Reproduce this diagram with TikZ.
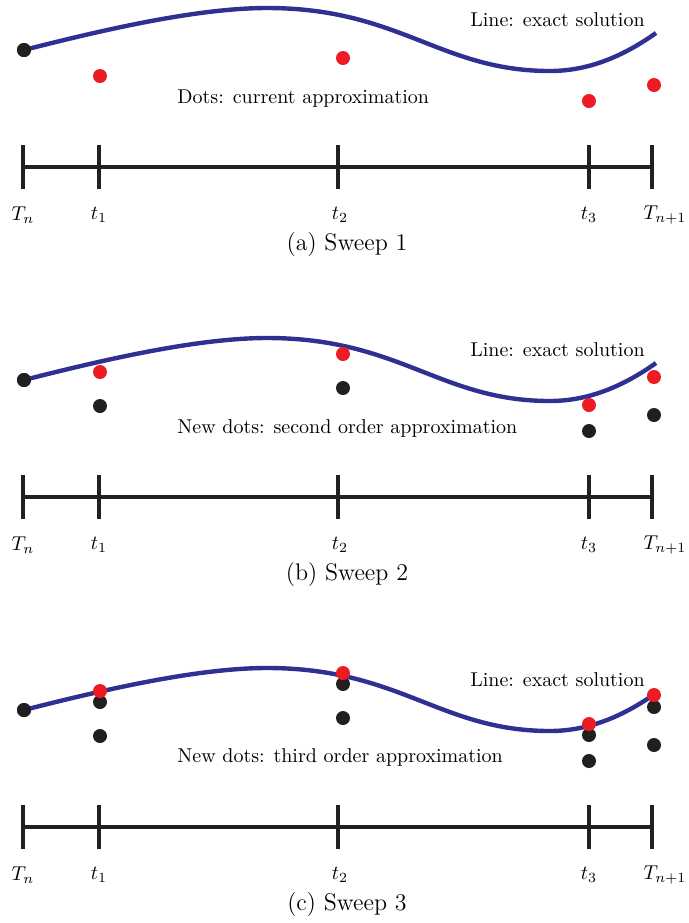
\documentclass[tikz,border=0pt]{standalone}
\usepackage[dvipsnames]{xcolor}
\usepackage{tikz}
\usetikzlibrary{positioning,calc}
\definecolor{solblue}{RGB}{46,49,146}
\definecolor{ptred}{RGB}{237,28,36}
\definecolor{ptblack}{RGB}{35,31,32}

\begin{document}
\begin{tikzpicture}[x=.5pt,y=-.5pt,
    axis/.style={ptblack,line width=1.8pt},
    sol/.style={solblue,line width=2.2pt},
    pt/.style={circle,fill=#1,inner sep=0pt,minimum size=7pt},
    txt/.style={anchor=west,inner sep=0pt}]
  \useasboundingbox (0,0) rectangle (689,923);
  \foreach \k/\c/\n in {0/a/1,1/b/2,2/c/3}{
    \begin{scope}[shift={(0,330*\k)}]
      \foreach \x/\nm in {23/Tn,99/ta,338/tb,589/tc,652/Tm}{
        \coordinate (\nm\k) at (\x,167);
        \draw[axis] ([yshift=11pt]\nm\k) -- ([yshift=-11pt]\nm\k);
      }
      \draw[axis] (Tn\k) -- (Tm\k);
      \node (lTn\k) at (23,215) {$T_n$};
      \node (lta\k) at (99,215) {$t_1$};
      \node (ltb\k) at (340,215) {$t_2$};
      \node (ltc\k) at (589,215) {$t_3$};
      \node (lTm\k) at (665,215) {$T_{n+1}$};
      \node[font=\large] (cap\k) at (347,245) {(\c) Sweep \n};
      \node[pt=ptblack] (s\k) at (24,50) {};
      \draw[sol] (s\k.center) .. controls (110,28) and (200,8) .. (267,8) .. controls (400,8) and (440,71) .. (550,71) .. controls (590,71) and (625,55) .. (656,33);
      \node[pt=ptblack] at (s\k) {};
      \node[txt] (line\k) at (470,20) {Line: exact solution};
    \end{scope}
  }
  % sweep 1
  \node[txt] (dots0) at (177,99) {Dots: current approximation};
  \foreach \x/\y [count=\i] in {100/76,343/58,589/101,654/85}
    \node[pt=ptred] (ra\i) at (\x,\y) {};
  % sweep 2
  \begin{scope}[shift={(0,330)}]
    \node[txt] (dots1) at (177,98) {New dots: second order approximation};
    \foreach \x/\y [count=\i] in {100/76,343/58,589/101,654/85}
      \node[pt=ptblack] (ba\i) at (\x,\y) {};
    \foreach \x/\y [count=\i] in {100/42,343/24,589/75,654/47}
      \node[pt=ptred] (rb\i) at (\x,\y) {};
  \end{scope}
  % sweep 3
  \begin{scope}[shift={(0,660)}]
    \node[txt] (dots2) at (177,97) {New dots: third order approximation};
    \foreach \x/\y [count=\i] in {100/76,343/58,589/101,654/85,100/42,343/24,589/75,654/47}
      \node[pt=ptblack] (bb\i) at (\x,\y) {};
    \foreach \x/\y [count=\i] in {100/31,343/13,589/64,654/35}
      \node[pt=ptred] (rc\i) at (\x,\y) {};
  \end{scope}
\end{tikzpicture}
\end{document}
